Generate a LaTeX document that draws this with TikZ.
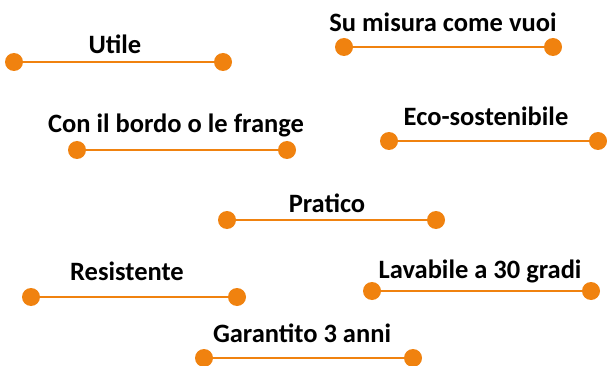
\documentclass[tikz,border=0pt]{standalone}
\usepackage{fontspec}
\setmainfont{Carlito}
\definecolor{acc}{HTML}{F0820F}
\tikzset{
  dot/.style={circle, fill=acc, inner sep=0pt, minimum size=18pt},
  bar/.style={draw=acc, line width=2.8pt},
  lbl/.style={font=\bfseries\fontsize{26.5}{30}\selectfont, inner sep=0pt, text=black}
}
\begin{document}
\begin{tikzpicture}[x=1pt, y=-1pt]
\useasboundingbox (0,0) rectangle (607,366);
% Utile
\node[dot] (a1) at (14,62) {};
\node[dot] (a2) at (223,62) {};
\draw[bar] (a1) -- (a2);
\node[lbl] (ta) at (115,44) {Utile};
% Su misura
\node[dot] (b1) at (344,47) {};
\node[dot] (b2) at (553,47) {};
\draw[bar] (b1) -- (b2);
\node[lbl] (tb) at (443,22) {Su misura come vuoi};
% Con il bordo
\node[dot] (c1) at (77,150) {};
\node[dot] (c2) at (287,150) {};
\draw[bar] (c1) -- (c2);
\node[lbl] (tc) at (176,125) {Con il bordo o le frange};
% Eco
\node[dot] (d1) at (389,141) {};
\node[dot] (d2) at (598,141) {};
\draw[bar] (d1) -- (d2);
\node[lbl] (td) at (486,116) {Eco-sostenibile};
% Pratico
\node[dot] (e1) at (227,220) {};
\node[dot] (e2) at (436,220) {};
\draw[bar] (e1) -- (e2);
\node[lbl] (te) at (327,203) {Pratico};
% Resistente
\node[dot] (f1) at (31,297) {};
\node[dot] (f2) at (237,297) {};
\draw[bar] (f1) -- (f2);
\node[lbl] (tf) at (127,271) {Resistente};
% Lavabile
\node[dot] (g1) at (372,291) {};
\node[dot] (g2) at (591,291) {};
\draw[bar] (g1) -- (g2);
\node[lbl] (tg) at (480,271) {Lavabile a 30 gradi};
% Garantito
\node[dot] (h1) at (204,358) {};
\node[dot] (h2) at (413,358) {};
\draw[bar] (h1) -- (h2);
\node[lbl] (th) at (302,333) {Garantito 3 anni};
\end{tikzpicture}
\end{document}
